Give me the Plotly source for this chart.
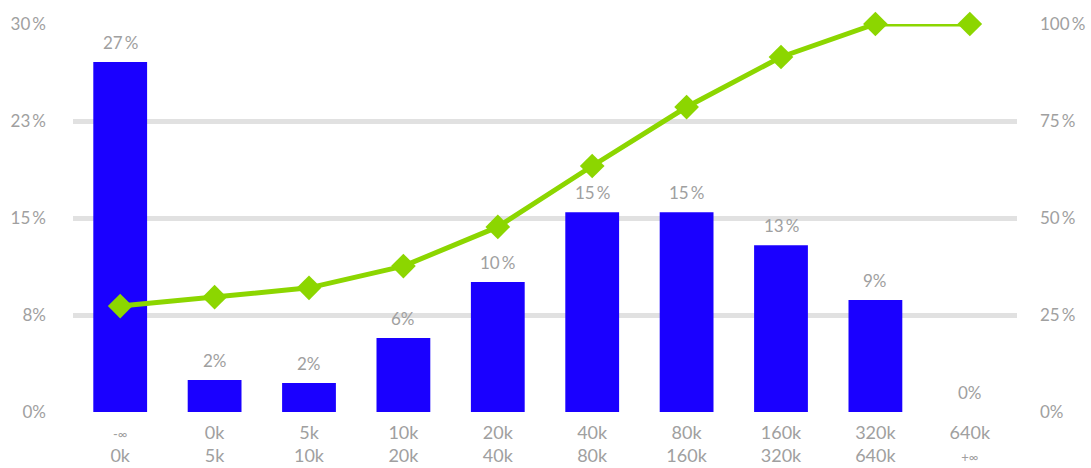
import math
import plotly.graph_objects as go

# Income brackets (lower / upper bound) for each bar
bracket_low = ["-∞", "0k", "5k", "10k", "20k", "40k", "80k", "160k", "320k", "640k"]
bracket_high = ["0k", "5k", "10k", "20k", "40k", "80k", "160k", "320k", "640k", "+∞"]

# Share of each bracket (%) and running cumulative share (%)
share = [27.07, 2.47, 2.24, 5.72, 10.05, 15.45, 15.45, 12.9, 8.66, 0.0]
cumulative = [27.3, 29.6, 32.0, 37.6, 47.7, 63.4, 78.6, 91.5, 100.0, 100.0]

# Axis ticks
left_ticks = [0, 7.5, 15, 22.5, 30]
right_ticks = [0, 25, 50, 75, 100]

BLUE = "#1a00ff"
GREEN = "#8cd600"
GREY_TEXT = "#a0a0a0"
GRID = "#e1e1e1"
FONT = "Lato"


def pct(v):
    n = int(math.floor(v + 0.5))
    return f"{n}\u2009%" if n >= 10 else f"{n}%"


def small(s):
    if "∞" in s:
        return f"<span style='font-size:13px'>{s}</span>"
    return s


categories = list(range(len(share)))
tick_text = [f"{small(a)}<br>{small(b)}" for a, b in zip(bracket_low, bracket_high)]

fig = go.Figure()
fig.add_trace(go.Bar(
    x=categories, y=share, marker=dict(color=BLUE, line=dict(width=0)),
    yaxis="y", hoverinfo="skip",
))
fig.add_trace(go.Scatter(
    x=categories, y=cumulative, yaxis="y2", mode="lines+markers",
    line=dict(color=GREEN, width=5),
    marker=dict(symbol="diamond", size=19, color=GREEN, line=dict(width=0)),
    cliponaxis=False, hoverinfo="skip",
))

for i, v in enumerate(share):
    fig.add_annotation(
        x=i, y=v, xref="x", yref="y", text=pct(v), showarrow=False,
        yanchor="bottom", yshift=7,
        font=dict(family=FONT, size=17, color=GREY_TEXT),
    )

fig.update_layout(
    width=1091, height=468,
    margin=dict(l=73, r=74, t=24, b=56),
    paper_bgcolor="white", plot_bgcolor="white",
    showlegend=False, bargap=0.43,
    font=dict(family=FONT, size=17, color=GREY_TEXT),
    xaxis=dict(
        tickvals=categories, ticktext=tick_text, range=[-0.5, 9.5],
        showgrid=False, zeroline=False, showline=False, ticks="",
        ticklabelstandoff=8, tickfont=dict(size=18, color=GREY_TEXT),
        automargin=False,
    ),
    yaxis=dict(
        range=[0, 30], tickvals=left_ticks, ticktext=[pct(t) for t in left_ticks],
        showgrid=True, gridcolor=GRID, gridwidth=5, zeroline=False,
        showline=False, ticks="", ticklabelstandoff=26, automargin=False,
    ),
    yaxis2=dict(
        range=[0, 100], overlaying="y", side="right",
        tickvals=right_ticks, ticktext=[pct(t) for t in right_ticks],
        showgrid=False, zeroline=False, showline=False, ticks="",
        ticklabelstandoff=22, automargin=False,
    ),
)

fig.write_html("out.html")
